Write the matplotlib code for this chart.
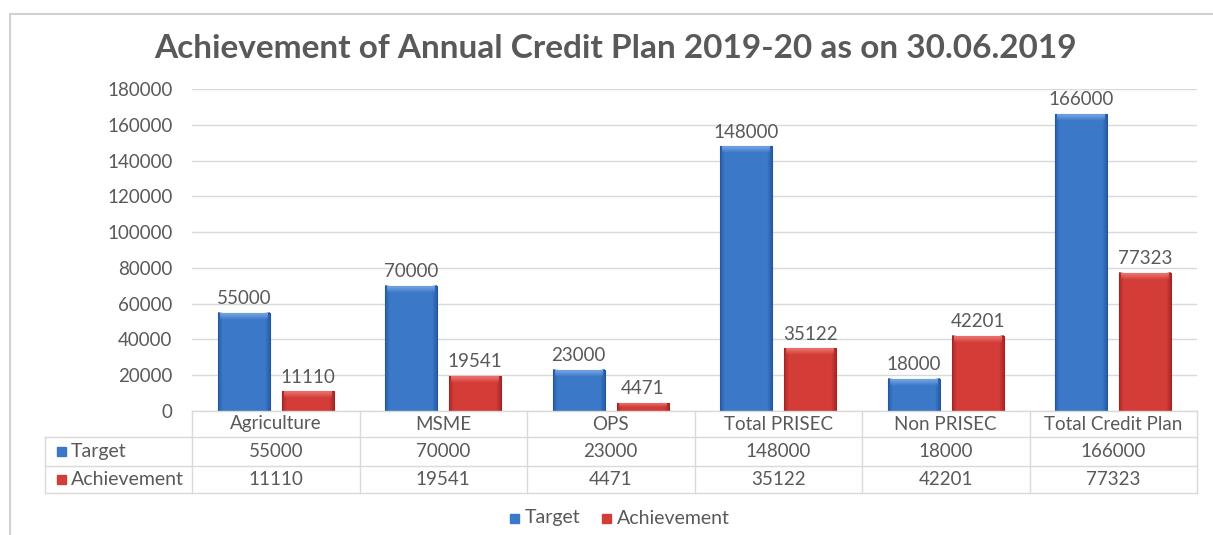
import numpy as np
import matplotlib
matplotlib.use("Agg")
import matplotlib.pyplot as plt
from matplotlib.patches import Rectangle

plt.rcParams['font.family'] = ['Lato', 'DejaVu Sans']

categories = ["Agriculture", "MSME", "OPS", "Total PRISEC", "Non PRISEC", "Total Credit Plan"]
target = [55000, 70000, 23000, 148000, 18000, 166000]
achievement = [11110, 19541, 4471, 35122, 42201, 77323]
series_names = ["Target", "Achievement"]
y_ticks = [0, 20000, 40000, 60000, 80000, 100000, 120000, 140000, 160000, 180000]

W, H = 1213, 535
grey = "#595959"
line_c = "#d9d9d9"
blue = "#3b78c8"
blue_dark = "#24569f"
blue_light = "#7aaae6"
red = "#d43c38"
red_dark = "#9e2523"
red_light = "#f07a76"

fig = plt.figure(figsize=(W / 100, H / 100), dpi=100)
fig.patch.set_facecolor("white")

# outer chart frame
fig.add_artist(Rectangle((10 / W, -0.01), 1.1, 1 - 14 / H + 0.01, transform=fig.transFigure,
                         fill=False, edgecolor="#d0d0d0", linewidth=1.5))

left, right = 192 / W, 1197 / W
bottom, top = 1 - 411 / H, 1 - 89 / H
ax = fig.add_axes([left, bottom, right - left, top - bottom])
ax.set_xlim(-0.5, len(categories) - 0.5)
ax.set_ylim(0, 180000)
ax.set_yticks(y_ticks)
ax.set_yticklabels([str(t) for t in y_ticks], color=grey, fontsize=13.5)
ax.tick_params(axis="y", length=0, pad=14)
ax.set_xticks([])
for s in ax.spines.values():
    s.set_visible(False)
ax.grid(axis="y", color=line_c, linewidth=1)
ax.set_axisbelow(True)

x = np.arange(len(categories))
bw = 0.31
off = 0.191
px = 180000 / (411 - 89)  # data units per pixel


def shaded_bar(xc, h, main, dark, light):
    x0, x1 = xc - bw / 2, xc + bw / 2
    ax.bar(xc, h, bw, color=main, edgecolor=dark, linewidth=0.8, zorder=2)
    # darker sides to give the bevelled look
    prof = np.ones(60)
    prof[:6] = np.linspace(0.0, 1.0, 6)
    prof[-6:] = np.linspace(1.0, 0.0, 6)
    rgba = np.zeros((1, 60, 4))
    rgba[..., :3] = matplotlib.colors.to_rgb(dark)
    rgba[0, :, 3] = (1 - prof) * 0.75
    ax.imshow(rgba, extent=(x0, x1, 0, h), aspect="auto", zorder=3, interpolation="bilinear")
    # light top edge fading down into the bar
    top_h = min(7 * px, h * 0.5)
    grad = np.zeros((20, 1, 4))
    grad[..., :3] = matplotlib.colors.to_rgb(light)
    grad[:, 0, 3] = np.linspace(0.95, 0.0, 20)
    ax.imshow(grad, extent=(x0 + 0.012, x1 - 0.012, h - top_h, h - 0.6 * px), aspect="auto",
              zorder=4, interpolation="bilinear")


for i in range(len(categories)):
    shaded_bar(x[i] - off, target[i], blue, blue_dark, blue_light)
    shaded_bar(x[i] + off, achievement[i], red, red_dark, red_light)
    ax.annotate(str(target[i]), (x[i] - off, target[i]), xytext=(0, 4), textcoords="offset points",
                ha="center", va="bottom", color=grey, fontsize=13.5)
    ax.annotate(str(achievement[i]), (x[i] + off, achievement[i]), xytext=(0, 4),
                textcoords="offset points", ha="center", va="bottom", color=grey, fontsize=13.5)
ax.set_xlim(-0.5, len(categories) - 0.5)
ax.set_ylim(0, 180000)

# data table under the plot
row_y = [411, 437, 466, 493]
fy = [1 - v / H for v in row_y]
hdr_left = 45 / W
n = len(categories)
kw = dict(color=line_c, linewidth=1, transform=fig.transFigure)
fig.add_artist(plt.Line2D([left, right], [fy[0], fy[0]], **kw))
for r in (1, 2, 3):
    fig.add_artist(plt.Line2D([hdr_left, right], [fy[r], fy[r]], **kw))
fig.add_artist(plt.Line2D([hdr_left, hdr_left], [fy[1], fy[3]], **kw))
for j in range(n + 1):
    xf = left + (right - left) * j / n
    fig.add_artist(plt.Line2D([xf, xf], [fy[0], fy[3]], **kw))

for j, c in enumerate(categories):
    xc = left + (right - left) * (j + 0.5) / n
    ymid = [(fy[k] + fy[k + 1]) / 2 for k in range(3)]
    fig.text(xc, ymid[0], c, ha="center", va="center", color=grey, fontsize=13.5)
    fig.text(xc, ymid[1], str(target[j]), ha="center", va="center", color=grey, fontsize=13.5)
    fig.text(xc, ymid[2], str(achievement[j]), ha="center", va="center", color=grey, fontsize=13.5)

for k, (name, col) in enumerate(zip(series_names, [blue, red])):
    ym = (fy[k + 1] + fy[k + 2]) / 2
    fig.add_artist(Rectangle((57 / W, ym - 4.5 / H), 9 / W, 9 / H, color=col,
                             transform=fig.transFigure))
    fig.text(71 / W, ym, name, ha="left", va="center", color=grey, fontsize=14)

# legend
leg_y = 1 - 518 / H
for xm, xt, name, col in [(510, 525, series_names[0], blue), (602, 617, series_names[1], red)]:
    fig.add_artist(Rectangle((xm / W, leg_y - 4.5 / H), 9 / W, 9 / H, color=col,
                             transform=fig.transFigure))
    fig.text(xt / W, leg_y, name, ha="left", va="center", color=grey, fontsize=14)

fig.text(616 / W, 1 - 48 / H, "Achievement of Annual Credit Plan 2019-20 as on 30.06.2019",
         ha="center", va="center", color=grey, fontsize=24, fontweight="bold")

fig.savefig("out.png", dpi=100, facecolor="white")
